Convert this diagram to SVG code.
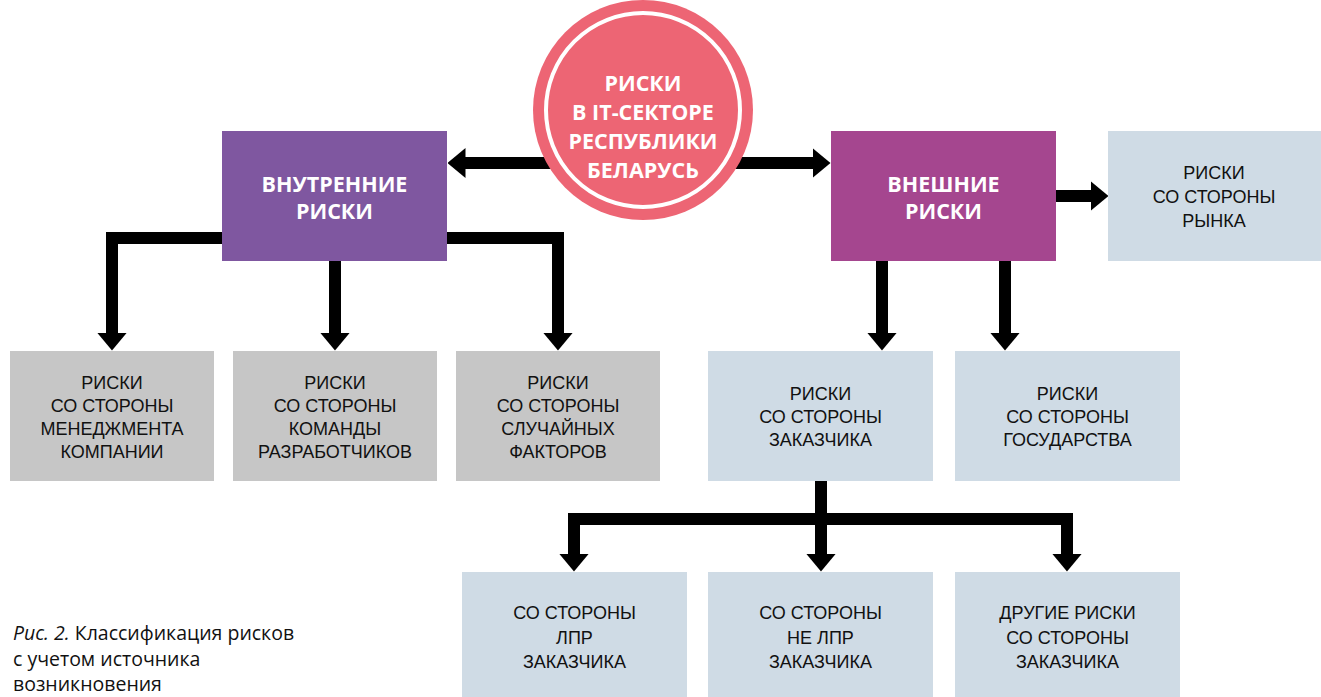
<svg xmlns="http://www.w3.org/2000/svg" width="1321" height="697" viewBox="0 0 1321 697">
<defs>
<marker id="ah" viewBox="0 0 18 30" refX="0.5" refY="15" markerWidth="1.5" markerHeight="2.5" markerUnits="strokeWidth" orient="auto">
<path d="M0 0 L18 15 L0 30 Z" fill="#000"/>
</marker>
<style>
.conn path{fill:none;stroke:#000;stroke-width:12;stroke-linejoin:miter}
.arr{marker-end:url(#ah)}
.hd{font-family:"Open Sans","Noto Sans",sans-serif;font-weight:700;font-size:21.5px;fill:#fff;text-anchor:middle}
.tx{font-family:"Liberation Sans",Arial,sans-serif;font-size:18px;fill:#111;text-anchor:middle}
.gray{fill:#c6c6c6}
.light{fill:#cfdbe5}
.cap{font-family:"Open Sans","Noto Sans",sans-serif;font-size:19.5px;fill:#111}
</style>
</defs>
<rect width="1321" height="697" fill="#fff"/>
<g id="connectors" class="conn">
<path class="arr" d="M600 163 H465"/>
<path class="arr" d="M690 163 H813"/>
<path class="arr" d="M1050 196 H1091"/>
<path class="arr" d="M300 238 H112 V333"/>
<path class="arr" d="M335 255 V333"/>
<path class="arr" d="M400 238 H558 V333"/>
<path class="arr" d="M882 255 V333"/>
<path class="arr" d="M1005 255 V333"/>
<path class="arr" d="M821 475 V554"/>
<path class="arr" d="M821 519 H574 V554"/>
<path class="arr" d="M821 519 H1067 V554"/>
</g>
<g id="center">
<circle cx="643" cy="110" r="110" fill="#ed6574"/>
<circle cx="643" cy="110" r="97" fill="none" stroke="#fff" stroke-width="4"/>
<text class="hd" x="643" y="91">РИСКИ</text>
<text class="hd" x="643" y="120">В IT-СЕКТОРЕ</text>
<text class="hd" x="643" y="149">РЕСПУБЛИКИ</text>
<text class="hd" x="643" y="178">БЕЛАРУСЬ</text>
</g>
<g id="internal">
<rect x="222" y="131" width="225" height="130" fill="#7f57a0"/>
<text class="hd" x="334.5" y="192">ВНУТРЕННИЕ</text>
<text class="hd" x="334.5" y="219">РИСКИ</text>
</g>
<g id="external">
<rect x="831" y="131" width="225" height="130" fill="#a5468f"/>
<text class="hd" x="943.5" y="192">ВНЕШНИЕ</text>
<text class="hd" x="943.5" y="219">РИСКИ</text>
</g>
<g id="market">
<rect class="light" x="1108" y="131" width="213" height="130"/>
<text class="tx" x="1214" y="179">РИСКИ</text>
<text class="tx" x="1214" y="203">СО СТОРОНЫ</text>
<text class="tx" x="1214" y="227">РЫНКА</text>
</g>
<g id="management">
<rect class="gray" x="10" y="351" width="204" height="130"/>
<text class="tx" x="112" y="389">РИСКИ</text>
<text class="tx" x="112" y="412">СО СТОРОНЫ</text>
<text class="tx" x="112" y="435">МЕНЕДЖМЕНТА</text>
<text class="tx" x="112" y="458">КОМПАНИИ</text>
</g>
<g id="team">
<rect class="gray" x="233" y="351" width="204" height="130"/>
<text class="tx" x="335" y="389">РИСКИ</text>
<text class="tx" x="335" y="412">СО СТОРОНЫ</text>
<text class="tx" x="335" y="435">КОМАНДЫ</text>
<text class="tx" x="335" y="458">РАЗРАБОТЧИКОВ</text>
</g>
<g id="random">
<rect class="gray" x="456" y="351" width="204" height="130"/>
<text class="tx" x="558" y="389">РИСКИ</text>
<text class="tx" x="558" y="412">СО СТОРОНЫ</text>
<text class="tx" x="558" y="435">СЛУЧАЙНЫХ</text>
<text class="tx" x="558" y="458">ФАКТОРОВ</text>
</g>
<g id="customer">
<rect class="light" x="708" y="351" width="225" height="130"/>
<text class="tx" x="820.5" y="400">РИСКИ</text>
<text class="tx" x="820.5" y="423">СО СТОРОНЫ</text>
<text class="tx" x="820.5" y="446">ЗАКАЗЧИКА</text>
</g>
<g id="state">
<rect class="light" x="955" y="351" width="225" height="130"/>
<text class="tx" x="1067.5" y="400">РИСКИ</text>
<text class="tx" x="1067.5" y="423">СО СТОРОНЫ</text>
<text class="tx" x="1067.5" y="446">ГОСУДАРСТВА</text>
</g>
<g id="dm">
<rect class="light" x="462" y="572" width="225" height="125"/>
<text class="tx" x="574.5" y="619">СО СТОРОНЫ</text>
<text class="tx" x="574.5" y="644">ЛПР</text>
<text class="tx" x="574.5" y="668">ЗАКАЗЧИКА</text>
</g>
<g id="nondm">
<rect class="light" x="708" y="572" width="225" height="125"/>
<text class="tx" x="820.5" y="619">СО СТОРОНЫ</text>
<text class="tx" x="820.5" y="644">НЕ ЛПР</text>
<text class="tx" x="820.5" y="668">ЗАКАЗЧИКА</text>
</g>
<g id="other">
<rect class="light" x="955" y="572" width="225" height="125"/>
<text class="tx" x="1067.5" y="619">ДРУГИЕ РИСКИ</text>
<text class="tx" x="1067.5" y="644">СО СТОРОНЫ</text>
<text class="tx" x="1067.5" y="668">ЗАКАЗЧИКА</text>
</g>
<g id="caption">
<text class="cap" x="13" y="640"><tspan font-style="italic">Рис. 2.</tspan> Классификация рисков</text>
<text class="cap" x="13" y="666">с учетом источника</text>
<text class="cap" x="13" y="691">возникновения</text>
</g>
</svg>
